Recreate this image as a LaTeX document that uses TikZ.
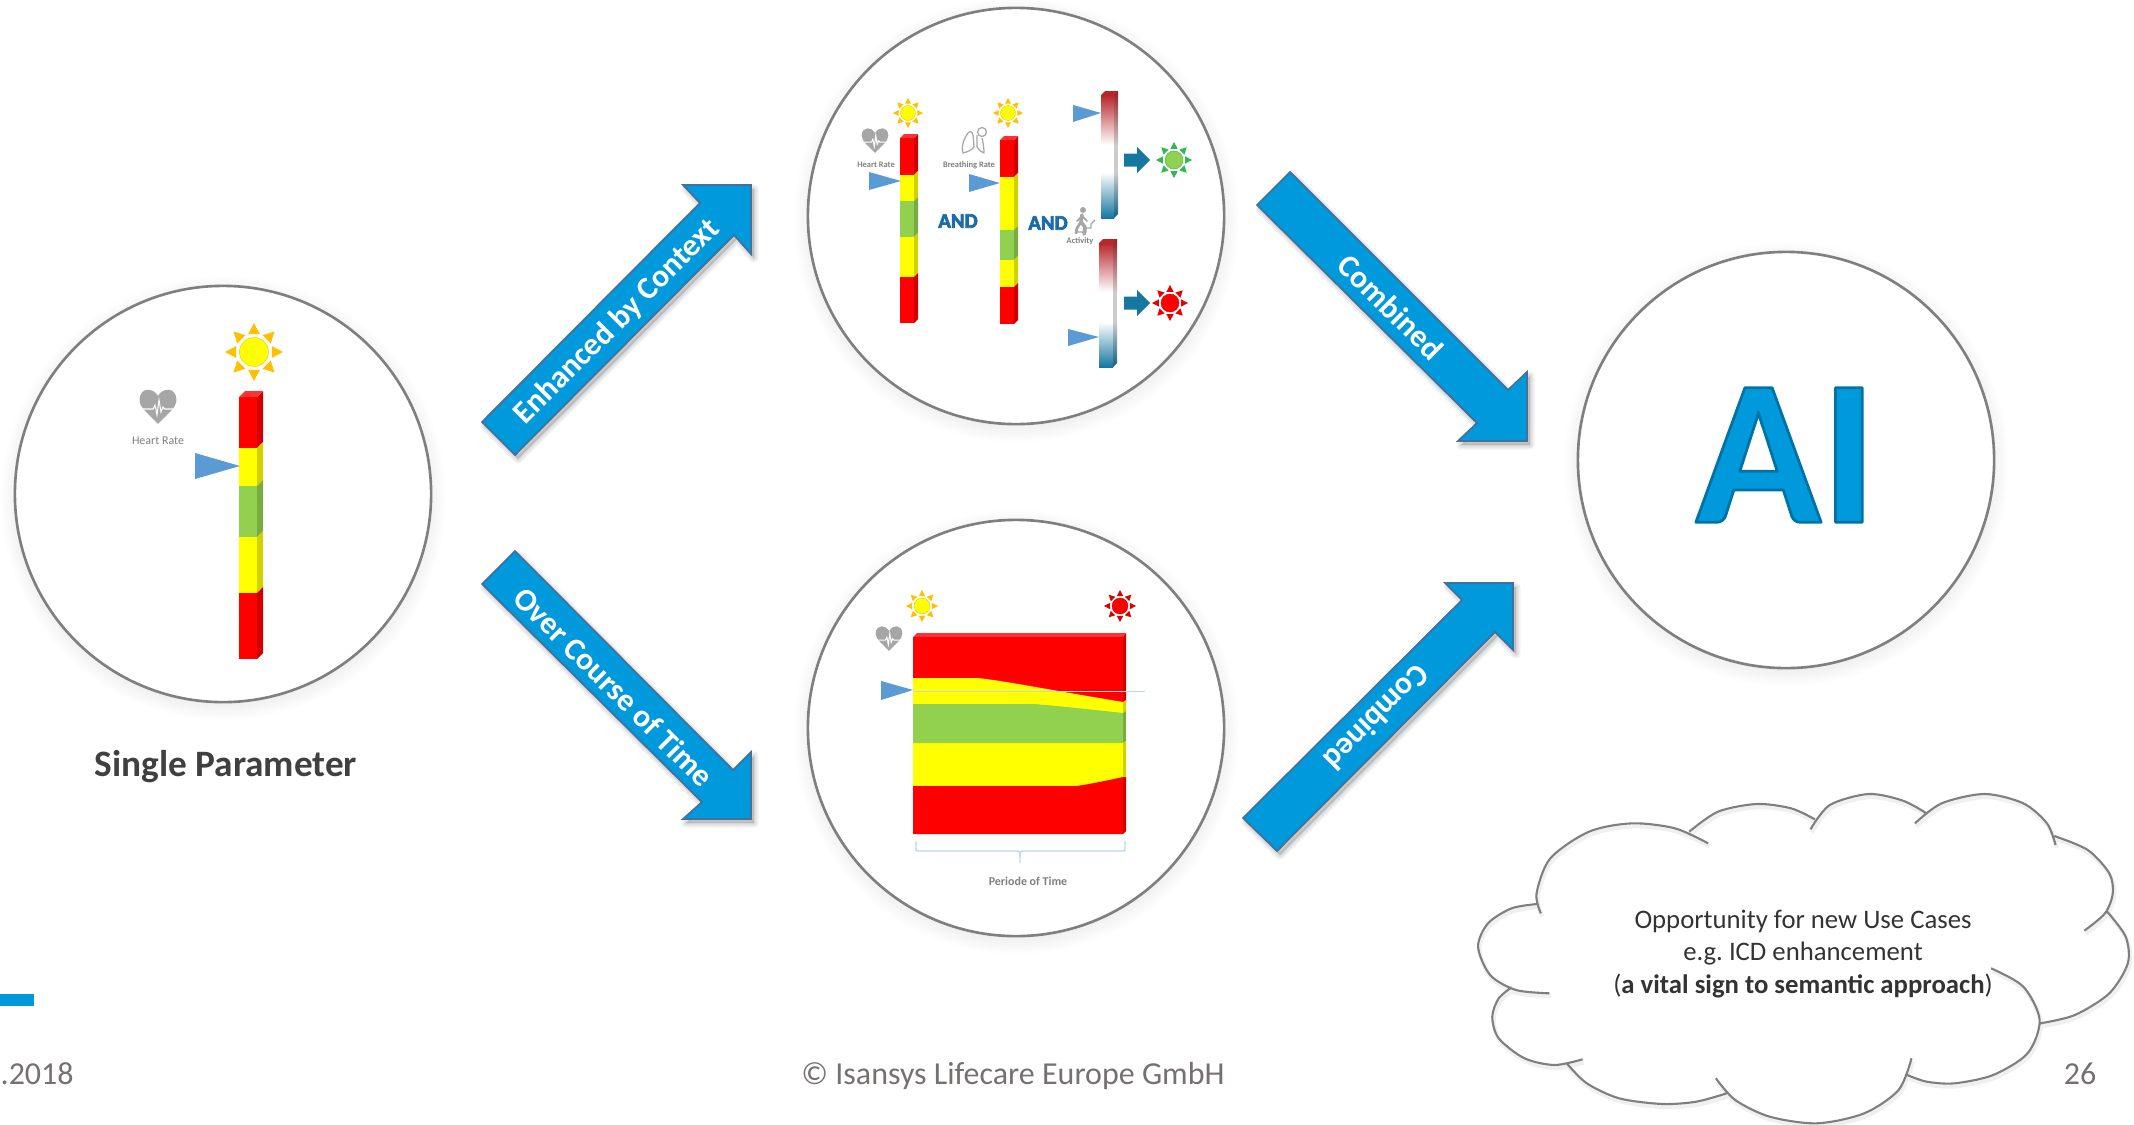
\documentclass[tikz,border=0pt]{standalone}
\usepackage{fontspec}
\setmainfont{Carlito}
\frenchspacing
\usetikzlibrary{shadows}
\usetikzlibrary{fadings}

\definecolor{isablue}{HTML}{0099DC}
\definecolor{isaedge}{HTML}{41719C}
\definecolor{barred}{HTML}{FF0000}
\definecolor{baryellow}{HTML}{FFFF00}
\definecolor{bargreen}{HTML}{92D050}
\definecolor{raygold}{HTML}{FFC000}
\definecolor{raygreen}{HTML}{2EB84F}
\definecolor{pointerblue}{HTML}{5B9BD5}
\definecolor{andblue}{HTML}{1B6CA8}
\definecolor{fadered}{HTML}{B8262B}
\definecolor{fadeblue}{HTML}{15779F}
\definecolor{ringgray}{HTML}{7F7F7F}
\definecolor{footgray}{HTML}{767171}
\definecolor{icongray}{HTML}{A6A6A6}
\definecolor{briefblue}{HTML}{BDD7EE}

\tikzset{
  ring/.style={circle, draw=ringgray, line width=.75pt, fill=white, minimum size=4.16cm, inner sep=0pt,
    circular drop shadow={shadow scale=1.07, shadow xshift=0pt, shadow yshift=-1pt, opacity=.22}},
  blockarrow/.style={fill=isablue, draw=isaedge, line width=.5pt, line join=miter},
  blockshade/.style={draw=black, fill=black, opacity=.05, line join=round},
  arrowtext/.style={text=white, font=\fontsize{9}{10}\selectfont\bfseries},
  pointer/.style={fill=pointerblue},
  smalllabel/.style={text=gray, inner sep=0pt, font=\fontsize{#1}{#1}\selectfont\bfseries},
  andlabel/.style={text=andblue, inner sep=0pt, font=\fontsize{5.9}{7}\selectfont\bfseries},
  footer/.style={text=footgray, inner sep=0pt, font=\fontsize{9.1}{11}\selectfont},
  cloudline/.style={draw=ringgray, line width=.6pt},
  cloudshade/.style={draw=black, opacity=.06, line width=1.2pt},
  brief/.style={draw=briefblue, line width=.25pt},
}

% text with a stroke round the letters: width, then stroke colour as r g b
\newcommand{\strokedtext}[3]{\special{pdf:code 2 Tr #1 w 1 j #2 RG}#3\special{pdf:code 0 Tr 0 j}}
% bar with five bands, front from #1 to #2, depth #3
\newcommand{\gaugebar}[9]{
  \foreach \ya/\yb/\col in {#4/#5/barred,#5/#6/baryellow,#6/#7/bargreen,#7/#8/baryellow,#8/#9/barred}{
    \fill[fill=\col] (#1,\ya) rectangle (#2,\yb);
    \fill[fill=\col!82!black] (#2,\ya) -- (#2+#3,\ya-#3) -- (#2+#3,\yb-#3) -- (#2,\yb) -- cycle;
  }
  \fill[fill=barred!80!white] (#1,#4) -- (#1+#3,#4-#3) -- (#2+#3,#4-#3) -- (#2,#4) -- cycle;
}
% bar that fades to white in the middle
\newcommand{\fadebar}[7]{
  \shade[top color=fadered, bottom color=white] (#1,#4) rectangle (#2,#5);
  \shade[top color=white, bottom color=fadeblue] (#1,#6) rectangle (#2,#7);
  \shade[top color=fadered!80!black, bottom color=black!20] (#2,#4-#3) rectangle (#2+#3,#5);
  \fill[black!20] (#2,#5) rectangle (#2+#3,#6);
  \shade[top color=black!20, bottom color=fadeblue!80!black] (#2,#6) -- (#2+#3,#6) -- (#2+#3,#7-#3) -- (#2,#7) -- cycle;
  \fill[fill=fadered] (#1,#4) -- (#1+#3,#4-#3) -- (#2+#3,#4-#3) -- (#2,#4) -- cycle;
}
% x, y, radius, core, rays
\newcommand{\sunicon}[5]{
  \begin{scope}[shift={(#1,#2)}, scale=#3]
    \foreach \a in {0,45,...,315}{
      \fill[fill=#5, rotate=\a] (.62,-.2) -- (1,0) -- (.62,.2) -- cycle;
    }
    \fill[fill=#4, draw=#5, line width=.12pt] (0,0) circle[radius=.5];
  \end{scope}
}
\newcommand{\hearticon}[3]{
  \begin{scope}[shift={(#1,#2)}, scale=#3]
    \fill[icongray] (0,-10) .. controls (-4,-18) and (-18,-20) .. (-18.5,-6)
      .. controls (-18.5,2) and (-8,9) .. (0,18)
      .. controls (8,9) and (18.5,2) .. (18.5,-6)
      .. controls (18,-20) and (4,-18) .. (0,-10);
    \draw[white, line width=.3pt] (-18,3) -- (-5,3) -- (-3,-1) -- (-1,9) -- (1,-6) -- (3,6) -- (5,1) -- (7,3) -- (18,3);
  \end{scope}
}
\newcommand{\smallarrow}[2]{
  \fill[fill=fadeblue] (#1,#2-6.5) -- (#1+13,#2-6.5) -- (#1+13,#2-13) -- (#1+26,#2) -- (#1+13,#2+13) -- (#1+13,#2+6.5) -- (#1,#2+6.5) -- cycle;
}
\newcommand{\blockshape}[1]{
  \foreach \w in {2.6,1.7,.8}{
    \filldraw[blockshade, line width=\w pt, shift={(3,4)}] #1;
  }
  \filldraw[blockarrow] #1;
}
\newcommand{\cloudpath}{
  plot[smooth] coordinates {(188,400)(178,340)(210,235)(300,155)(400,130)(500,145)(577,190)}
  plot[smooth] coordinates {(533,155)(600,95)(690,72)(770,85)(825,118)}
  plot[smooth] coordinates {(815,148)(860,75)(950,42)(1030,62)(1085,100)}
  plot[smooth] coordinates {(1058,130)(1120,70)(1220,42)(1310,70)(1365,130)(1385,195)}
  plot[smooth] coordinates {(1382,168)(1460,210)(1510,280)(1518,340)(1500,400)(1452,452)}
  plot[smooth] coordinates {(1505,395)(1548,470)(1553,550)(1510,640)(1430,705)(1350,730)}
  plot[smooth] coordinates {(1235,565)(1310,620)(1348,720)(1320,820)(1240,885)(1150,910)(1085,905)(1040,885)}
  plot[smooth] coordinates {(1050,835)(1020,930)(940,1000)(830,1030)(720,1010)(640,960)(595,895)}
  plot[smooth] coordinates {(620,940)(550,965)(470,972)(370,955)(295,910)(248,850)}
  plot[smooth] coordinates {(285,838)(220,855)(150,835)(90,775)(75,710)(90,655)(120,622)}
  plot[smooth] coordinates {(208,640)(130,630)(70,585)(42,500)(65,430)(120,385)(180,372)}
}

\begin{document}
\begin{tikzpicture}[x=.01cm, y=-.01cm]
    \useasboundingbox (0,0) rectangle (2134,1124);

    \node[ring] (single) at (223,494) {};
    \node[ring] (context) at (1016,216) {};
    \node[ring] (course) at (1016,728) {};
    \node[ring] (ai) at (1786,460) {};

    \node[inner sep=0pt, text=isablue, font=\fontsize{59}{59}\selectfont\bfseries] (aitext) at (1786,455)
      {\strokedtext{.8}{0 .45 .65}{AI}};

    % block arrows
    \blockshape{(482,422) -- (700,203) -- (683,185) -- (751,185) -- (751,254) -- (734,235) -- (515,455) -- cycle}
    \blockshape{(482,584) -- (702,802) -- (683,819) -- (751,819) -- (751,752) -- (733,770) -- (515,551) -- cycle}
    \blockshape{(1257,205) -- (1477,423) -- (1458,441) -- (1527,441) -- (1527,372) -- (1508,390) -- (1290,172) -- cycle}
    \blockshape{(1243,818) -- (1462,600) -- (1445,583) -- (1513,583) -- (1513,650) -- (1495,632) -- (1277,851) -- cycle}
    \node[arrowtext, rotate=45] (enhanced) at (617,322) {Enhanced by Context};
    \node[arrowtext, rotate=-45] (over) at (614,687) {Over Course of Time};
    \node[arrowtext, rotate=-45] (combinedtop) at (1391,307) {Combined};
    \node[arrowtext, rotate=225] (combinedlow) at (1377,718) {Combined};

    % single parameter
    \sunicon{254}{352}{29}{baryellow}{raygold}
    \hearticon{158}{406}{1}
    \node[smalllabel=3.4, font=\fontsize{3.4}{4}\selectfont] (hrleft) at (158,441) {Heart Rate};
    \gaugebar{239}{257}{6}{397}{448}{486}{537}{593}{659}
    \fill[pointer] (195,453) -- (240,466) -- (195,479) -- cycle;
    \node[inner sep=0pt, text=black!75, font=\fontsize{10.6}{12}\selectfont\bfseries] (singlelabel) at (226,767) {Single Parameter};

    % enhanced by context
    \sunicon{908}{113}{15}{baryellow}{raygold}
    \sunicon{1008}{113}{15}{baryellow}{raygold}
    \hearticon{875}{140}{.72}
    \node[smalllabel=2.4] (hrtop) at (876,165) {Heart Rate};
    \draw[icongray, line width=.35pt, line join=round] (968,133) .. controls (963,140) and (961,148) .. (963,153) .. controls (967,152) and (972,150) .. (974,147) -- (973,135) .. controls (972,131) and (970,131) .. (968,133);
    \draw[icongray, line width=.35pt, line join=round] (977,135) -- (977,147) .. controls (979,150) and (981,152) .. (984,153) .. controls (984,147) and (983,143) .. (982,138);
    \draw[icongray, line width=.35pt, fill=white] (982,132) circle[radius=4.5];
    \node[smalllabel=2.4] (brtop) at (969,165) {Breathing Rate};
    \gaugebar{900}{914}{4}{138}{175}{201}{237}{277}{323}
    \gaugebar{1000}{1014}{4}{140}{177}{230}{260}{287}{324}
    \fadebar{1101}{1114}{4}{95}{145}{172}{218}
    \fadebar{1099}{1113}{4}{243}{292}{322}{367}
    \fill[pointer] (869,172) -- (901,181) -- (869,190) -- cycle;
    \fill[pointer] (969,174) -- (1000,183) -- (969,192) -- cycle;
    \fill[pointer] (1073,105) -- (1101,113) -- (1073,122) -- cycle;
    \fill[pointer] (1068,329) -- (1099,337) -- (1068,346) -- cycle;
    \node[andlabel] (andone) at (958,221) {\strokedtext{.2}{.106 .424 .659}{AND}};
    \node[andlabel] (andtwo) at (1048,223) {\strokedtext{.2}{.106 .424 .659}{AND}};
    \fill[icongray] (1083,210) circle[radius=3];
    \draw[icongray, line width=1pt, line cap=round, line join=round] (1082,215) -- (1081,222) -- (1085,227) -- (1084,234);
    \draw[icongray, line width=.8pt, line cap=round, line join=round] (1081,222) -- (1077,228) -- (1076,233);
    \draw[icongray, line width=.5pt, line cap=round] (1082,216) -- (1087,221) (1082,216) -- (1077,221);
    \draw[icongray, line width=.35pt] (1076,232) -- (1086,232) -- (1086,228) -- (1091,228) -- (1091,224) -- (1095,220);
    \node[smalllabel=2.4] (actlabel) at (1080,241) {Activity};
    \smallarrow{1124}{160}
    \smallarrow{1124}{303}
    \sunicon{1174}{160}{18}{bargreen}{raygreen}
    \sunicon{1170}{303}{18}{barred}{barred!90!black}

    % over course of time
    \sunicon{922}{606}{16}{baryellow}{raygold}
    \sunicon{1120}{606}{16}{barred}{barred!85!black}
    \hearticon{889}{638}{.72}
    \fill[fill=barred!80!white] (913,637) -- (917,633) -- (1126,633) -- (1123,637) -- cycle;
    \fill[fill=barred] (913,637) rectangle (1123,834);
    \fill[fill=baryellow] (913,678) -- (977,678) .. controls (1000,680) and (1050,690) .. (1123,702) -- (1123,786) -- (913,786) -- cycle;
    \fill[fill=bargreen] (913,704) -- (1033,704) .. controls (1060,706) and (1095,710) .. (1123,713) -- (1123,743) -- (913,743) -- cycle;
    \fill[fill=barred] (913,786) -- (1077,786) .. controls (1090,784) and (1110,780) .. (1123,777) -- (1123,834) -- (913,834) -- cycle;
    \fill[fill=barred!82!black] (1123,637) -- (1126,633) -- (1126,702) -- (1123,702) -- cycle;
    \fill[fill=baryellow!82!black] (1123,702) -- (1126,700) -- (1126,711) -- (1123,713) -- cycle;
    \fill[fill=bargreen!82!black] (1123,713) -- (1126,711) -- (1126,741) -- (1123,743) -- cycle;
    \fill[fill=baryellow!82!black] (1123,743) -- (1126,741) -- (1126,777) -- (1123,777) -- cycle;
    \fill[fill=barred!82!black] (1123,777) -- (1126,777) -- (1126,831) -- (1123,834) -- cycle;
    \draw[brief] (913,691) -- (1145,691);
    \fill[pointer] (881,681) -- (913,690) -- (881,700) -- cycle;
    \draw[brief, line width=.4pt] (916,841) -- (916,849) .. controls (916,851) .. (918,851) -- (1017,851) .. controls (1020,851) .. (1020,863)
      .. controls (1020,851) .. (1023,851) -- (1123,851) .. controls (1125,851) .. (1125,849) -- (1125,841);
    \node[smalllabel=3.4] (periode) at (1028,881) {Periode of Time};

    % cloud
    \begin{scope}[shift={(1460,780)}, xscale=.43, yscale=.3333]
      \draw[cloudshade, shift={(3,9)}] \cloudpath;
      \draw[cloudline] \cloudpath;
    \end{scope}
    \node[align=center, inner sep=0pt, text=black!80, font=\fontsize{7.6}{9.2}\selectfont] (cloudtext) at (1803,954)
      {Opportunity for new Use Cases\\e.g. ICD enhancement\\(\textbf{a vital sign to semantic approach})};

    % footer
    \fill[fill=isablue] (0,994) rectangle (34,1006);
    \node[footer, anchor=base west] (datelabel) at (0,1084) {.2018};
    \node[footer, anchor=base] (copyright) at (1013,1084) {© Isansys Lifecare Europe GmbH};
    \node[footer, anchor=base] (pagenumber) at (2080,1084) {26};
\end{tikzpicture}
\end{document}
